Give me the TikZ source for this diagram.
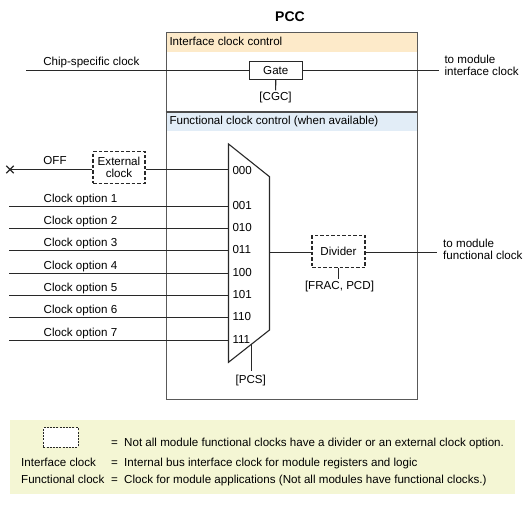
\documentclass[tikz,border=0pt]{standalone}
\usepackage{fontspec}
\setmainfont{Liberation Sans}
\usetikzlibrary{shapes.misc}
\definecolor{icheadcol}{RGB}{253,234,201}
\definecolor{fcheadcol}{RGB}{226,237,247}
\definecolor{legendbg}{RGB}{244,246,212}
\definecolor{wirecol}{RGB}{40,40,40}
\begin{document}
\begin{tikzpicture}[x=1pt,y=-1pt,
  every node/.style={font=\fontsize{11.6}{12}\selectfont, inner sep=0pt, text=black},
  wire/.style={draw=wirecol, line width=1.1pt},
  solidbox/.style={draw=wirecol, line width=1.1pt, fill=white, minimum width=53pt, minimum height=17.6pt},
  dashbox/.style={draw=wirecol, line width=1.1pt, dash pattern=on 3.5pt off 2pt, fill=white, align=center},
  hdr/.style={minimum width=251pt, anchor=north west, inner sep=0pt}]
\useasboundingbox (0,0) rectangle (527,505);
\fill[white] (0,0) rectangle (527,505);

% PCC frame and section headers
\node[hdr, fill=icheadcol, minimum height=19.4pt] (ichdr) at (165.5,32.3) {};
\node[hdr, fill=fcheadcol, minimum height=18.4pt] (fchdr) at (165.5,112.3) {};
\node[draw=black!65, line width=1.1pt, minimum width=251pt, minimum height=366.2pt, anchor=north west] (pccbox) at (165.5,32.3) {};
\draw[draw=black!70, line width=2pt] (fchdr.north west) -- (fchdr.north east);

\node[font=\bfseries\fontsize{14}{15}\selectfont, anchor=base] (title) at (290,22) {PCC};
\node[anchor=base west] (ictext) at (169.3,45.7) {Interface clock control};
\node[anchor=base west] (fctext) at (169.3,124.3) {Functional clock control (when available)};

% Interface clock path
\node[solidbox] (gate) at (275.8,70.5) {Gate};
\coordinate (chipin) at (26,70.5);
\coordinate (ifout) at (439.3,70.5);
\draw[wire] (chipin) -- (gate.west);
\draw[wire] (gate.east) -- (ifout);
\node[anchor=base] (chiplbl) at (91.3,65.7) {Chip-specific clock};
\node[anchor=west, align=left] (iflbl) at (444.3,65.8) {to module\\interface clock};
\node[anchor=base] (cgc) at (275.6,101) {[CGC]};
\draw[wire] (gate.south) -- ([yshift=2pt]cgc.north);

% Multiplexer
\coordinate (mtl) at (228.5,144);
\coordinate (mtr) at (269.5,176.7);
\coordinate (mbr) at (269.5,330);
\coordinate (mbl) at (228.5,362.3);
\draw[wire, line join=miter] (mtl) -- (mtr) -- (mbr) -- (mbl) -- cycle;

\foreach \i/\y/\b in {1/206.5/001, 2/228.5/010, 3/250.5/011, 4/273.5/100, 5/295.5/101, 6/317.5/110, 7/340.5/111} {
  \coordinate (src\i) at (9,\y);
  \coordinate (in\i) at (228.5,\y);
  \draw[wire] (src\i) -- (in\i);
  \node[anchor=base] (opt\i) at (80.5,\y-3.8) {Clock option \i};
  \node[anchor=base west] (sel\i) at (232.3,\y+3.3) {\b};
}

% OFF / external clock input
\node[draw=wirecol, cross out, line width=1.3pt, minimum size=6pt] (off) at (10,169.5) {};
\node[dashbox, minimum width=52pt, minimum height=31.6pt] (ext) at (119,167.5) {External\\clock};
\coordinate (in0) at (228.5,169.5);
\draw[wire] (off.center) -- (ext.west |- off.center);
\draw[wire] (ext.east |- in0) -- (in0);
\node[anchor=base] (offlbl) at (55,165) {OFF};
\node[anchor=base west] (sel0) at (232.3,174.3) {000};

% PCS select
\coordinate (pcsin) at (251.5,344.4);
\node[anchor=base] (pcs) at (250.7,383) {[PCS]};
\draw[wire] (pcsin) -- ([yshift=3pt]pcs.north -| pcsin);

% Divider
\node[dashbox, minimum width=53pt, minimum height=32pt] (div) at (338.5,251.8) {Divider};
\coordinate (mout) at (269.5,252.5);
\coordinate (fcout) at (437.3,252.5);
\draw[wire] (mout) -- (div.west |- mout);
\draw[wire] (div.east |- mout) -- (fcout);
\node[anchor=base] (frac) at (339.5,289.5) {[FRAC, PCD]};
\draw[wire] (div.south) -- ([yshift=1.5pt]frac.north -| div.south);
\node[anchor=west, align=left] (fclbl) at (443,249) {to module\\functional clock};

% Legend
\node[fill=legendbg, minimum width=505.7pt, minimum height=74pt, anchor=north west] (legend) at (9.3,419.3) {};
\node[draw=wirecol, line width=0.9pt, dash pattern=on 2pt off 1.2pt, fill=white, minimum width=34.5pt, minimum height=19.5pt, anchor=north west] (legbox) at (43,427.2) {};
\node[anchor=base west] (eq1) at (111,446.7) {=};
\node[anchor=base west] (def1) at (124,446.7) {Not all module functional clocks have a divider or an external clock option.};
\node[anchor=base west] (term2) at (21,466) {Interface clock};
\node[anchor=base west] (eq2) at (111,466) {=};
\node[anchor=base west] (def2) at (124,466) {Internal bus interface clock for module registers and logic};
\node[anchor=base west] (term3) at (21,483.3) {Functional clock};
\node[anchor=base west] (eq3) at (111,483.3) {=};
\node[anchor=base west] (def3) at (124,483.3) {Clock for module applications (Not all modules have functional clocks.)};
\end{tikzpicture}
\end{document}
